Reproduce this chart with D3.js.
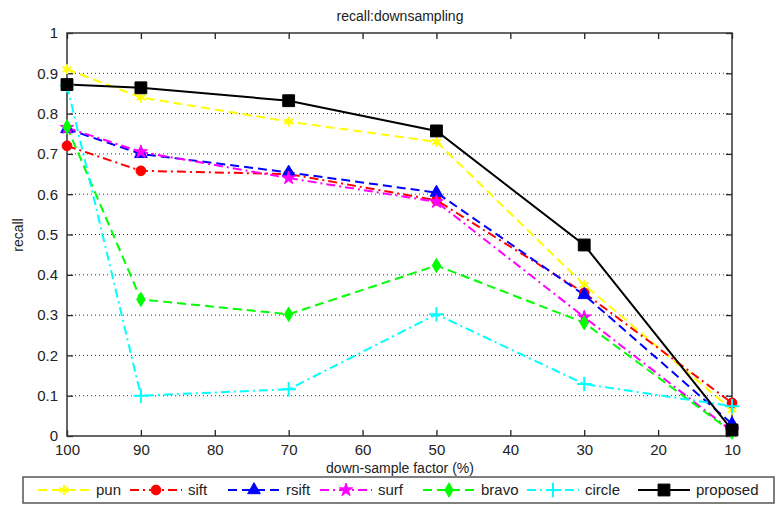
<!DOCTYPE html>
<html>
<head>
<meta charset="utf-8">
<script src="https://cdn.jsdelivr.net/npm/d3@7"></script>
<style>
body { margin: 0; background: #fff; }
text { font-family: "Liberation Sans", Arial, sans-serif; fill: #222; }
</style>
</head>
<body>
<div id="chart-area"></div>
<script>
// data
var factors = [100, 90, 70, 50, 30, 10];
var pun      = [0.91, 0.84, 0.78, 0.73, 0.375, 0.065];
var sift     = [0.72, 0.658, 0.65, 0.585, 0.355, 0.082];
var rsift    = [0.762, 0.70, 0.654, 0.604, 0.35, 0.03];
var surf     = [0.765, 0.705, 0.64, 0.581, 0.295, 0.012];
var bravo    = [0.767, 0.339, 0.302, 0.423, 0.281, 0.01];
var circle   = [0.87, 0.10, 0.116, 0.302, 0.129, 0.074];
var proposed = [0.872, 0.864, 0.832, 0.757, 0.474, 0.015];
var seriesNames = ["pun", "sift", "rsift", "surf", "bravo", "circle", "proposed"];
var xTicks = [100, 90, 80, 70, 60, 50, 40, 30, 20, 10];
var yTicks = [0, 0.1, 0.2, 0.3, 0.4, 0.5, 0.6, 0.7, 0.8, 0.9, 1];

var series = [
    {name: "pun", values: pun, color: "#ffff00", dash: "9,5", symbol: d3.symbolAsterisk, size: 70, fill: false},
    {name: "sift", values: sift, color: "#ff0000", dash: "9,4,2,4", symbol: d3.symbolCircle, size: 75, fill: true},
    {name: "rsift", values: rsift, color: "#0000ff", dash: "9,5", symbol: d3.symbolTriangle, size: 70, fill: true},
    {name: "surf", values: surf, color: "#ff00ff", dash: "9,4,2,4", symbol: d3.symbolStar, size: 55, fill: true},
    {name: "bravo", values: bravo, color: "#00ff00", dash: "9,5", symbol: d3.symbolDiamond, size: 60, fill: true},
    {name: "circle", values: circle, color: "#00ffff", dash: "9,4,2,4", symbol: d3.symbolPlus, size: 70, fill: false},
    {name: "proposed", values: proposed, color: "#000000", dash: null, symbol: d3.symbolSquare, size: 140, fill: true}
];

var margin = {left: 67, right: 44, top: 33, bottom: 70};
var width = 776 - margin.left - margin.right,
    height = 506 - margin.top - margin.bottom;

var svg = d3.select("#chart-area").append("svg")
    .attr("width", 776)
    .attr("height", 506);

var g = svg.append("g").attr("transform", "translate(" + margin.left + ", " + margin.top + ")");

var x = d3.scaleLinear().domain([100, 10]).range([0, width]);
var y = d3.scaleLinear().domain([0, 1]).range([height, 0]);

// grid
g.selectAll(".grid")
    .data(yTicks.filter((d) => d > 0 && d < 1))
    .enter().append("line")
    .attr("x1", 0).attr("x2", width)
    .attr("y1", (d) => y(d)).attr("y2", (d) => y(d))
    .attr("stroke", "#333")
    .attr("stroke-width", 1)
    .attr("stroke-dasharray", "1,3");

// axes (ticks inward)
var bottomAxis = d3.axisBottom(x).tickValues(xTicks).tickSize(-6).tickPadding(8).tickFormat(d3.format("d"));
var topAxis = d3.axisTop(x).tickValues(xTicks).tickSize(-6).tickFormat("");
var leftAxis = d3.axisLeft(y).tickValues(yTicks).tickSize(-6).tickPadding(9).tickFormat((d) => d === 0 || d === 1 ? d : d3.format(".1f")(d));
var rightAxis = d3.axisRight(y).tickValues(yTicks).tickSize(-6).tickFormat("");

function styleAxis(sel) {
    sel.select(".domain").remove();
    sel.selectAll("line").attr("stroke", "#222").attr("stroke-width", 1.3);
    sel.selectAll("text").attr("font-size", "15px").style("fill", "#222")
        .attr("font-family", "Liberation Sans, Arial, sans-serif");
}
g.append("g").attr("transform", "translate(0," + height + ")").call(bottomAxis).call(styleAxis);
g.append("g").call(topAxis).call(styleAxis);
g.append("g").call(leftAxis).call(styleAxis);
g.append("g").attr("transform", "translate(" + width + ",0)").call(rightAxis).call(styleAxis);

g.append("rect")
    .attr("width", width).attr("height", height)
    .attr("fill", "none")
    .attr("stroke", "#333")
    .attr("stroke-width", 1.5);

// lines
var line = d3.line()
    .x((d, i) => x(factors[i]))
    .y((d) => y(d));

series.forEach((s) => {
    g.append("path")
        .datum(s.values)
        .attr("fill", "none")
        .attr("stroke", s.color)
        .attr("stroke-width", 2)
        .attr("stroke-dasharray", s.dash)
        .attr("d", line);
});
series.forEach((s) => {
    var sym = d3.symbol().type(s.symbol).size(s.size);
    g.selectAll(null)
        .data(s.values)
        .enter().append("path")
        .attr("transform", (d, i) => "translate(" + x(factors[i]) + "," + y(d) + ")")
        .attr("d", sym)
        .attr("fill", s.fill ? s.color : "none")
        .attr("stroke", s.color)
        .attr("stroke-width", s.fill ? 1 : 2);
});

// labels
svg.append("text")
    .attr("x", 400).attr("y", 21)
    .attr("font-size", "14px")
    .attr("text-anchor", "middle")
    .text("recall:downsampling");
svg.append("text")
    .attr("x", 400).attr("y", 473)
    .attr("font-size", "14px")
    .attr("text-anchor", "middle")
    .text("down-sample factor (%)");
svg.append("text")
    .attr("transform", "translate(23,235) rotate(-90)")
    .attr("font-size", "14px")
    .attr("text-anchor", "middle")
    .text("recall");

// legend
var legend = svg.append("g");
legend.append("rect")
    .attr("x", 23).attr("y", 477)
    .attr("width", 751).attr("height", 26)
    .attr("fill", "#fff")
    .attr("stroke", "#555")
    .attr("stroke-width", 1.5);

var legendX = [38, 130, 228, 320, 423, 527, 638];
series.forEach((s, i) => {
    var row = legend.append("g").attr("transform", "translate(" + legendX[i] + ",490)");
    row.append("line")
        .attr("x1", 0).attr("x2", 52)
        .attr("stroke", s.color)
        .attr("stroke-width", 2)
        .attr("stroke-dasharray", s.dash);
    row.append("path")
        .attr("transform", "translate(26,0)")
        .attr("d", d3.symbol().type(s.symbol).size(s.size))
        .attr("fill", s.fill ? s.color : "none")
        .attr("stroke", s.color)
        .attr("stroke-width", s.fill ? 1 : 2);
    row.append("text")
        .attr("x", 58).attr("y", 5)
        .attr("font-size", "15px")
        .text(seriesNames[i]);
});
</script>
</body>
</html>
